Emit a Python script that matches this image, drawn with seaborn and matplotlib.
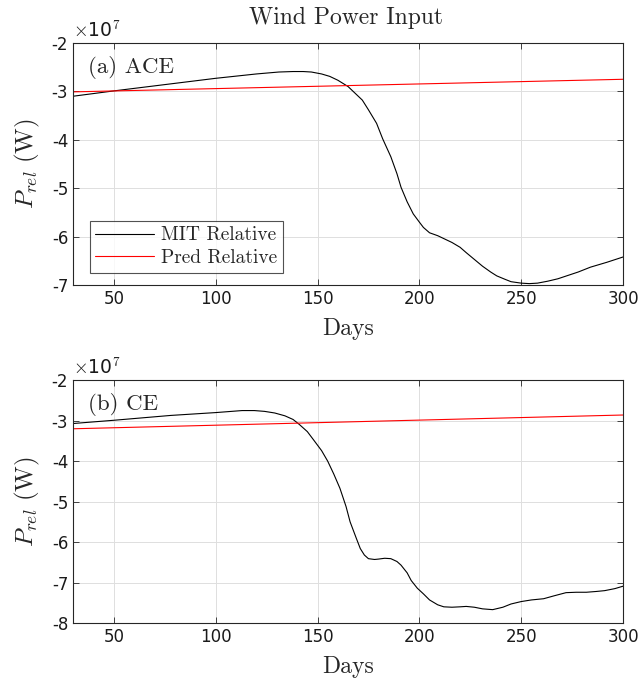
import numpy as np
import pandas as pd
import matplotlib
matplotlib.use('Agg')
import matplotlib.pyplot as plt
import seaborn as sns

# values, in units of 1e7 W
days_ace = [30, 50, 75, 100, 120, 131, 138, 143, 147, 152, 156, 160, 165, 168, 172, 175,
            179, 182, 186, 189, 191, 194, 197, 200, 202, 205, 209, 212, 216, 220, 223,
            227, 231, 235, 238, 242, 245, 250, 254, 258, 263, 268, 273, 278, 284, 292, 300]
mit_ace = [-3.10, -2.99, -2.86, -2.73, -2.64, -2.60, -2.59, -2.59, -2.60, -2.64, -2.69,
           -2.77, -2.90, -3.02, -3.18, -3.38, -3.66, -3.98, -4.35, -4.70, -4.98, -5.28,
           -5.53, -5.70, -5.81, -5.92, -5.98, -6.04, -6.12, -6.22, -6.33, -6.47, -6.61,
           -6.73, -6.81, -6.88, -6.93, -6.96, -6.97, -6.96, -6.92, -6.87, -6.80, -6.73,
           -6.63, -6.53, -6.42]
pred_days_ace = [30, 300]
pred_ace = [-3.01, -2.75]

days_ce = [30, 50, 78, 100, 113, 119, 124, 129, 134, 138, 141, 145, 148, 152, 155, 158,
           161, 164, 166, 169, 171, 173, 175, 178, 180, 183, 186, 189, 191, 194, 196, 199,
           202, 205, 209, 212, 216, 220, 223, 227, 231, 236, 241, 245, 250, 255, 261,
           266, 272, 277, 282, 287, 291, 296, 300]
mit_ce = [-3.07, -2.99, -2.87, -2.80, -2.75, -2.75, -2.77, -2.81, -2.88, -2.97, -3.09,
          -3.27, -3.47, -3.74, -4.00, -4.32, -4.67, -5.12, -5.50, -5.90, -6.16, -6.32,
          -6.41, -6.43, -6.42, -6.40, -6.41, -6.48, -6.57, -6.76, -6.95, -7.14, -7.28,
          -7.43, -7.55, -7.60, -7.61, -7.60, -7.59, -7.61, -7.65, -7.67, -7.61, -7.53,
          -7.47, -7.43, -7.40, -7.33, -7.25, -7.24, -7.24, -7.22, -7.20, -7.15, -7.09]
pred_days_ce = [30, 300]
pred_ce = [-3.20, -2.86]

sns.set_style('ticks')
plt.rcParams['axes.unicode_minus'] = False
plt.rcParams['mathtext.fontset'] = 'cm'
serif = 'cmr10'
axcol = '#262626'

fig = plt.figure(figsize=(6.41, 6.82), dpi=100)
ax1 = fig.add_axes([0.114, 0.582, 0.858, 0.355])
ax2 = fig.add_axes([0.114, 0.0865, 0.858, 0.356])

panels = [
    (ax1, days_ace, mit_ace, pred_days_ace, pred_ace, '(a) ACE', (-7, -2), True),
    (ax2, days_ce, mit_ce, pred_days_ce, pred_ce, '(b) CE', (-8, -2), False),
]

for ax, d, m, pd_, p, tag, ylim, show_leg in panels:
    mit = pd.DataFrame({'day': d, 'val': m})
    pred = pd.DataFrame({'day': pd_, 'val': p})
    sns.lineplot(data=mit, x='day', y='val', ax=ax, color='black', lw=0.8,
                 label='MIT Relative')
    sns.lineplot(data=pred, x='day', y='val', ax=ax, color='red', lw=0.8,
                 label='Pred Relative')
    ax.set_xlim(30, 300)
    ax.set_ylim(*ylim)
    ax.set_xticks([50, 100, 150, 200, 250, 300])
    ax.set_yticks(np.arange(ylim[0], ylim[1] + 1, 1))
    ax.grid(True, color='#dedede', lw=0.7)
    ax.set_axisbelow(True)
    ax.tick_params(direction='in', top=True, right=True, labelsize=12,
                   colors=axcol, length=4, width=0.6, labelcolor='#1a1a1a')
    for s in ax.spines.values():
        s.set_color(axcol)
        s.set_linewidth(0.8)
    ax.set_xlabel('Days', fontfamily=serif, fontsize=17, labelpad=7)
    ax.set_ylabel(r'$P_{rel}\ \mathrm{(W)}$', fontsize=18, labelpad=7)
    ax.text(0.027, 0.9, tag, transform=ax.transAxes, fontfamily=serif,
            fontsize=16.5, va='center', ha='left')
    ax.text(0.0, 1.01, r'$\times$10$^7$', transform=ax.transAxes, fontsize=13.5,
            va='bottom', ha='left', color='#1a1a1a')
    if show_leg:
        leg = ax.legend(loc='lower left', bbox_to_anchor=(0.03, 0.05),
                        prop={'family': serif, 'size': 14}, frameon=True,
                        fancybox=False, edgecolor='#262626', handlelength=3.0,
                        borderpad=0.3, labelspacing=0.25, handletextpad=0.35,
                        borderaxespad=0)
        leg.get_frame().set_linewidth(0.8)
    else:
        ax.get_legend().remove()

fig.text(0.54, 0.973, 'Wind Power Input', fontfamily=serif, fontsize=17,
         ha='center', va='center')

fig.savefig('out.png', dpi=100)
